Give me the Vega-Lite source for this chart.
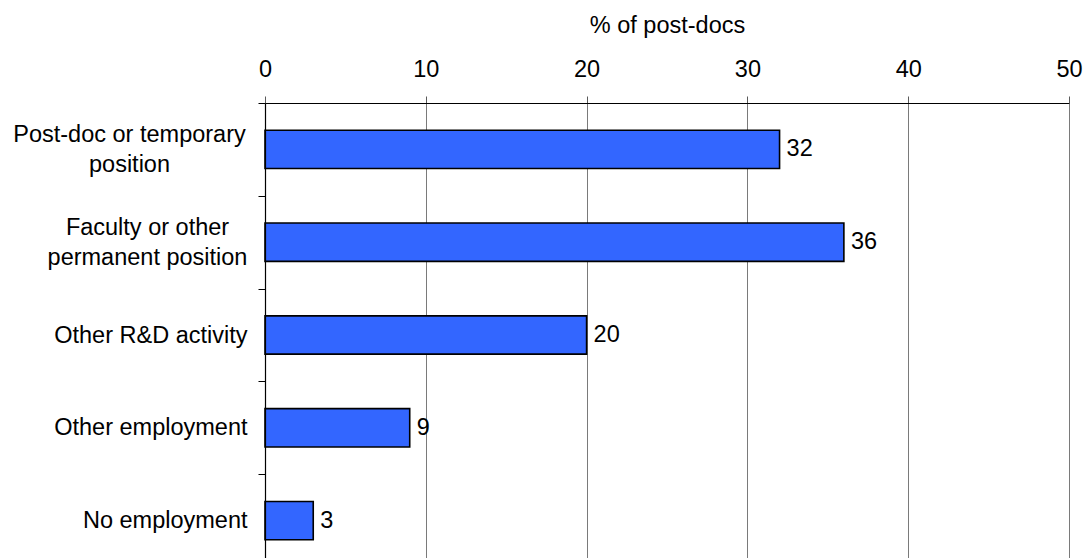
{
  "$schema": "https://vega.github.io/schema/vega-lite/v6.json",
  "width": 804,
  "height": 455,
  "autosize": {"type": "none"},
  "padding": {"left": 265, "top": 103, "right": 17, "bottom": 0},
  "background": "white",
  "config": {
    "view": {"stroke": null},
    "font": "Liberation Sans",
    "text": {"font": "Liberation Sans"}
  },
  "data": {
    "values": [
      {"outcome": "Post-doc or temporary position", "share": 32},
      {"outcome": "Faculty or other permanent position", "share": 36},
      {"outcome": "Other R&D activity", "share": 20},
      {"outcome": "Other employment", "share": 9},
      {"outcome": "No employment", "share": 3}
    ]
  },
  "encoding": {
    "y": {
      "field": "outcome",
      "type": "nominal",
      "sort": null,
      "scale": {"range": [0, 464], "paddingInner": 0, "paddingOuter": 0},
      "axis": {
        "title": null,
        "orient": "left",
        "zindex": 2,
        "tickBand": "extent",
        "tickSize": 7,
        "tickColor": "black",
        "tickWidth": 1,
        "domainColor": "black",
        "domainWidth": 1.2,
        "grid": false,
        "labelFont": "Liberation Sans",
        "labelFontSize": 23.5,
        "labelColor": "black",
        "labelLineHeight": 30,
        "labelLimit": 400,
        "labelExpr": "datum.value == 'Post-doc or temporary position' ? ['Post-doc or temporary', 'position'] : datum.value == 'Faculty or other permanent position' ? ['Faculty or other', 'permanent position'] : datum.value",
        "labelAlign": {
          "condition": {"test": "datum.value == 'Post-doc or temporary position' || datum.value == 'Faculty or other permanent position'", "value": "center"},
          "value": "right"
        },
        "labelOffset": {
          "condition": {"test": "datum.value == 'Post-doc or temporary position' || datum.value == 'Faculty or other permanent position'", "value": -15},
          "value": 0
        },
        "labelPadding": {
          "condition": [
            {"test": "datum.value == 'Post-doc or temporary position'", "value": 129},
            {"test": "datum.value == 'Faculty or other permanent position'", "value": 111}
          ],
          "value": 11
        }
      }
    }
  },
  "layer": [
    {
      "mark": {"type": "bar", "color": "#3366FF", "stroke": "black", "strokeWidth": 1.6, "height": {"band": 0.413}},
      "encoding": {
        "x": {
          "field": "share",
          "type": "quantitative",
          "scale": {"domain": [0, 50], "nice": false},
          "axis": {
            "orient": "top",
            "title": "% of post-docs",
            "titleFont": "Liberation Sans",
            "titleFontSize": 23.5,
            "titleFontWeight": "normal",
            "titleColor": "black",
            "titleBaseline": "alphabetic",
            "titleY": -71,
            "values": [0, 10, 20, 30, 40, 50],
            "grid": true,
            "gridColor": "#7a7a7a",
            "gridWidth": 1,
            "tickSize": 7,
            "tickColor": "#5a5a5a",
            "domainColor": "black",
            "domainWidth": 1,
            "labelFont": "Liberation Sans",
            "labelFontSize": 23.5,
            "labelColor": "black",
            "labelPadding": 15,
            "labelFlush": false
          }
        }
      }
    },
    {
      "mark": {"type": "text", "align": "left", "baseline": "middle", "dx": 7, "fontSize": 23.5, "color": "black", "font": "Liberation Sans"},
      "encoding": {
        "x": {"field": "share", "type": "quantitative"},
        "text": {"field": "share", "type": "quantitative"}
      }
    }
  ]
}
